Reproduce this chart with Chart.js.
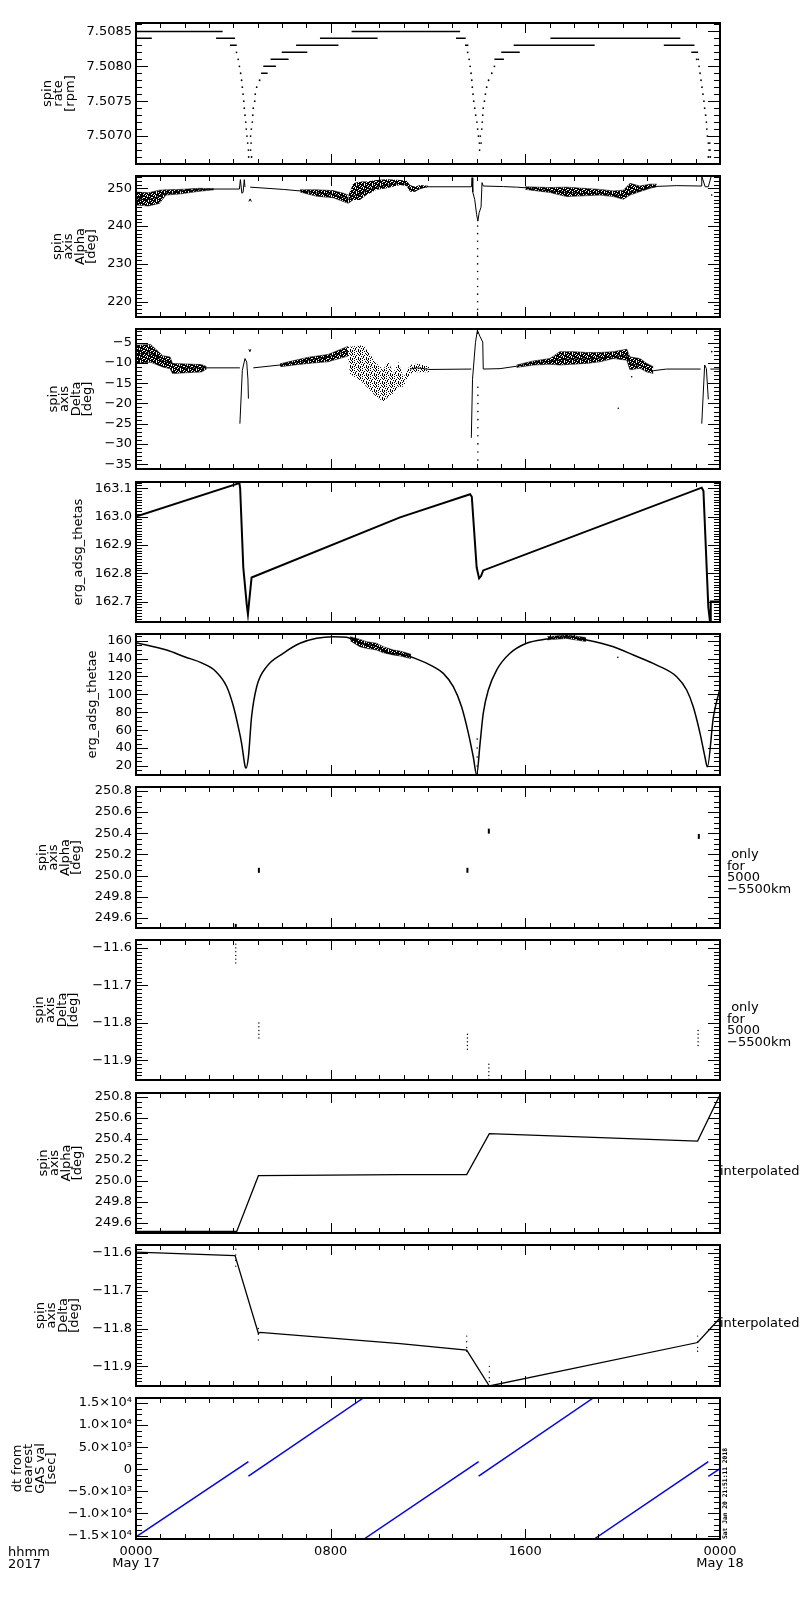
<!DOCTYPE html>
<html>
<head>
<meta charset="utf-8">
<script src="https://cdn.jsdelivr.net/npm/chart.js@4.4.1/dist/chart.umd.min.js"></script>
<style>
  body { margin: 0; background: #fff; }
  #page { position: relative; width: 800px; height: 1600px; overflow: hidden; }
  #page canvas { position: absolute; left: 0; }
</style>
</head>
<body>
<div id="page"></div>
<script>
// time axis: hours after 0000 UT, May 17 2017
const hourTicks = [0, 8, 16, 24];
const hourLabels = [["0000", "May 17"], ["0800"], ["1600"], ["0000", "May 18"]];

// tick values per panel
const rateTicks = [7.5070, 7.5075, 7.5080, 7.5085];
const alphaTicks = [220, 230, 240, 250];
const deltaTicks = [-35, -30, -25, -20, -15, -10, -5];
const thetasTicks = [162.7, 162.8, 162.9, 163.0, 163.1];
const thetaeTicks = [20, 40, 60, 80, 100, 120, 140, 160];
const alphaFineTicks = [249.6, 249.8, 250.0, 250.2, 250.4, 250.6, 250.8];
const deltaFineTicks = [-11.9, -11.8, -11.7, -11.6];
const dtTicks = [-15000, -10000, -5000, 0, 5000, 10000, 15000];
const dtTickLabels = ["\u22121.5\u00d710\u2074", "\u22121.0\u00d710\u2074", "\u22125.0\u00d710\u00b3", "0",
                      "5.0\u00d710\u00b3", "1.0\u00d710\u2074", "1.5\u00d710\u2074"];

// spin rate [rpm]: flat runs [start h, end h, rpm] and lone samples [h, rpm]
const rateRuns = [
  [0, 3.56, 7.5085], [0, 0.65, 7.5084], [3.29, 4.07, 7.5084], [3.86, 4.14, 7.5083],
  [5.14, 5.41, 7.5079], [5.23, 5.75, 7.5080], [5.53, 6.27, 7.5081], [5.99, 7.04, 7.5082],
  [6.58, 8.32, 7.5083], [7.56, 9.93, 7.5084], [8.86, 13.32, 7.5085], [13.15, 13.55, 7.5084],
  [13.52, 13.66, 7.5083], [14.73, 15.12, 7.5081], [15.01, 15.77, 7.5082], [15.52, 18.85, 7.5083],
  [17.03, 22.37, 7.5084], [21.69, 22.95, 7.5083], [22.82, 23.10, 7.5082]
];
const rateDots = [
  [4.13, 7.5082], [4.20, 7.5081], [4.25, 7.5080], [4.30, 7.5079], [4.34, 7.5078], [4.37, 7.5077],
  [4.40, 7.5076], [4.43, 7.5075], [4.45, 7.5074], [4.48, 7.5073], [4.51, 7.5072], [4.53, 7.5071],
  [4.56, 7.5070], [4.59, 7.5069], [4.62, 7.5068], [4.63, 7.5067], [4.75, 7.5067], [4.71, 7.5068],
  [4.73, 7.5069], [4.71, 7.5070], [4.74, 7.5071], [4.78, 7.5072], [4.80, 7.5073], [4.82, 7.5074],
  [4.88, 7.5075], [4.90, 7.5076], [4.96, 7.5077], [5.08, 7.5078],
  [13.63, 7.5082], [13.69, 7.5081], [13.73, 7.5080], [13.77, 7.5079], [13.80, 7.5078], [13.82, 7.5077],
  [13.85, 7.5076], [13.88, 7.5075], [13.92, 7.5074], [13.96, 7.5073], [14.01, 7.5072], [14.04, 7.5071],
  [14.07, 7.5070], [14.11, 7.5069], [14.12, 7.5068], [14.18, 7.5069], [14.15, 7.5070], [14.21, 7.5071],
  [14.23, 7.5072], [14.25, 7.5073], [14.27, 7.5074], [14.32, 7.5075], [14.36, 7.5076], [14.41, 7.5077],
  [14.49, 7.5078], [14.62, 7.5079], [14.73, 7.5080],
  [23.04, 7.5081], [23.11, 7.5081], [23.14, 7.5080], [23.18, 7.5079], [23.22, 7.5078], [23.26, 7.5077],
  [23.30, 7.5076], [23.34, 7.5075], [23.37, 7.5074], [23.41, 7.5073], [23.44, 7.5072], [23.46, 7.5071],
  [23.48, 7.5070], [23.52, 7.5069], [23.58, 7.5069], [23.55, 7.5068], [23.59, 7.5068], [23.52, 7.5067],
  [23.60, 7.5067]
];

// spin axis alpha [deg]: trace ([h, null] = gap), dense bands [h, hi, lo], sparse clouds, lone samples
const alphaTrace = [
  [0, 247.2], [0.5, 247.0], [0.96, 247.8], [1.23, 248.8], [1.5, 248.7], [1.8, 249.3], [2.6, 249.6],
  [3.2, 249.8], [4.25, 249.8], [4.29, 252.3], [4.35, 248.7], [4.40, 248.9], [4.45, 252.3], [4.48, 250.3],
  [4.48, null],
  [4.64, 246.5], [4.69, 247.2], [4.74, 246.5], [4.74, null],
  [4.69, 250.3], [6.05, 249.7], [6.74, 249.3], [7.42, 248.8], [8.1, 248.4], [8.52, 247.5], [8.73, 247.0],
  [8.93, 248.0], [9.2, 248.5], [9.47, 249.3], [9.89, 250.3], [10.3, 250.8], [10.85, 251.3], [11.12, 251.0],
  [11.3, 249.6], [11.47, 249.3], [11.67, 249.9], [11.94, 250.4], [13.79, 250.4], [13.81, 252.8],
  [13.84, 249.0], [13.92, 247.0], [14.0, 243.0], [14.05, 241.3], [14.10, 243.5], [14.18, 245.0],
  [14.22, 251.5], [14.27, 250.6], [15.1, 250.45], [15.64, 250.3], [16.33, 250.0], [17.0, 249.3],
  [17.7, 248.9], [18.38, 248.6], [19.07, 248.7], [19.62, 248.3], [20.03, 248.0], [20.3, 248.8],
  [20.7, 249.5], [21.13, 250.3], [21.4, 250.5], [22.22, 250.7], [23.22, 250.6], [23.25, 253.2],
  [23.39, 250.4], [23.52, 250.4], [23.64, 253.2]
];
const alphaBands = [
  [[0, 249.0, 245.6], [0.5, 248.8, 245.3], [0.96, 249.5, 246.0], [1.23, 249.6, 248.2], [1.8, 249.7, 248.5],
   [2.6, 250.0, 249.2], [3.2, 249.9, 249.6]],
  [[6.74, 249.6, 249.0], [7.42, 249.6, 247.9], [8.1, 249.4, 247.5], [8.52, 248.7, 246.5], [8.73, 248.2, 246.0]],
  [[16.0, 250.4, 249.7], [17.0, 250.2, 248.9], [17.7, 250.3, 247.8], [18.38, 250.0, 248.0],
   [19.07, 249.7, 248.2], [19.62, 249.3, 247.8], [20.03, 249.5, 247.1], [20.3, 251.3, 248.2],
   [20.7, 250.6, 249.1], [21.13, 251.1, 250.0], [21.4, 251.1, 250.4]]
];
const alphaClouds = [
  [[8.73, 248.2, 246.0], [8.93, 251.3, 246.9], [9.2, 251.8, 246.9], [9.47, 251.8, 248.2], [9.89, 252.2, 249.6],
   [10.3, 252.4, 250.0], [10.85, 252.2, 250.9], [11.12, 252.0, 250.6], [11.26, 250.9, 249.1],
   [11.47, 250.4, 249.1], [11.67, 250.9, 250.0], [12.0, 250.7, 250.2]]
];
const alphaDots = [
  [23.66, 248.2], [14.04, 240], [14.04, 238], [14.04, 236], [14.04, 234], [14.04, 232], [14.04, 230],
  [14.04, 228], [14.04, 226], [14.04, 224], [14.04, 222], [14.04, 220], [14.04, 218], [14.04, 216.5]
];

// spin axis delta [deg]
const deltaTrace = [
  [0, -7.8], [0.6, -7.5], [1.1, -9.5], [1.4, -10.0], [2.0, -11.3], [2.7, -11.2], [4.27, -11.2], [4.27, null],
  [4.27, -25.0], [4.37, -11.8], [4.48, -8.9], [4.55, -9.8], [4.60, -14.0], [4.62, -18.8], [4.62, null],
  [4.64, -6.6], [4.68, -7.2], [4.72, -6.6], [4.72, null],
  [4.82, -11.2], [5.92, -10.5], [7.07, -9.3], [7.89, -8.5], [8.71, -7.0], [8.71, null],
  [11.26, -11.5], [11.54, -11.2], [12.08, -11.6], [13.78, -11.5], [13.78, null],
  [13.78, -28.5], [13.83, -14.0], [13.95, -5.0], [14.03, -1.9], [14.14, -3.5], [14.25, -4.8],
  [14.27, -11.5], [14.96, -11.4], [15.64, -10.8], [16.33, -10.0], [17.01, -9.6], [17.42, -9.2],
  [17.97, -9.0], [18.52, -9.0], [19.07, -8.8], [19.62, -8.4], [20.17, -8.2], [20.3, -10.2],
  [20.71, -10.6], [20.99, -11.4], [21.26, -11.9], [21.81, -11.5], [23.20, -11.5], [23.20, null],
  [23.25, -25.0], [23.37, -10.5], [23.44, -11.4], [23.52, -19.0], [23.52, null],
  [23.60, -11.5], [24, -11.5]
];
const deltaBands = [
  [[0, -5.6, -10.1], [0.6, -5.4, -9.8], [1.1, -8.2, -11.0], [1.4, -8.5, -11.4], [1.5, -10.1, -12.6],
   [2.7, -10.4, -12.2], [2.9, -10.9, -11.5]],
  [[5.92, -10.2, -10.9], [7.07, -8.6, -10.1], [7.89, -7.9, -9.7], [8.71, -5.9, -8.3]],
  [[15.64, -10.5, -11.1], [16.33, -9.5, -10.5], [17.01, -8.9, -10.3], [17.42, -7.2, -10.5],
   [17.97, -7.2, -10.3], [18.52, -7.4, -10.1], [19.07, -7.4, -9.7], [19.62, -7.2, -8.9],
   [20.17, -6.6, -9.3], [20.3, -8.5, -11.7], [20.71, -8.9, -11.3], [20.99, -10.1, -12.2], [21.26, -10.9, -12.6]]
];
const deltaClouds = [
  [[8.71, -5.9, -8.3], [8.79, -6.0, -12.6], [9.34, -5.6, -15.0], [9.89, -10.1, -18.4], [10.16, -11.7, -19.6],
   [10.36, -9.3, -18.4], [10.57, -12.6, -17.5], [10.78, -9.7, -15.9], [10.99, -13.6, -15.9],
   [11.26, -10.5, -12.6], [11.54, -10.1, -12.3], [12.08, -10.9, -12.3]]
];
const deltaDots = [
  [19.82, -21.2], [20.37, -13.4], [23.66, -7.2],
  [14.05, -16], [14.05, -18], [14.05, -20], [14.05, -22], [14.05, -24], [14.05, -26],
  [14.05, -28], [14.05, -30], [14.05, -32], [14.05, -34], [14.05, -36]
];

// erg_adsg_thetas [deg]
const thetasTrace = [
  [0, 163.0], [4.25, 163.118], [4.28, 163.10], [4.41, 162.82], [4.55, 162.69], [4.60, 162.655],
  [4.65, 162.70], [4.75, 162.785], [10.85, 162.997], [13.73, 163.079], [13.80, 163.07], [14.0, 162.82],
  [14.1, 162.782], [14.18, 162.79], [14.27, 162.81], [23.25, 163.102], [23.32, 163.09], [23.52, 162.68],
  [23.59, 162.628], [23.62, 162.70], [24, 162.70]
];

// erg_adsg_thetae [deg]
const thetaeTrace = [
  [0, 157.8], [1.26, 149.6], [1.99, 142.1], [2.74, 134.7], [3.29, 125.4], [3.73, 108.6], [4.0, 87],
  [4.2, 64], [4.34, 45.3], [4.48, 20], [4.52, 17.4], [4.62, 30.3], [4.75, 75], [4.96, 108.6], [5.37, 131],
  [6.05, 145.9], [6.74, 157.1], [7.42, 162.7], [8.1, 164.5], [8.66, 163.8], [9.2, 157.5], [9.89, 153.5],
  [10.3, 146.5], [10.85, 145.1], [11.47, 140.3], [12.22, 131], [12.63, 123.5], [13.04, 108.6], [13.38, 86.2],
  [13.66, 56.5], [13.86, 30.3], [14.0, 10], [14.14, 45.3], [14.27, 78.8], [14.48, 104.9], [14.82, 127.2],
  [15.37, 145.9], [16.05, 157.1], [16.88, 161.9], [17.7, 164.5], [18.52, 160.8], [19.62, 153.3],
  [20.44, 144], [21.4, 132.8], [22.22, 119.8], [22.63, 104.9], [22.9, 86.2], [23.18, 56.5], [23.38, 30.3],
  [23.48, 19], [23.73, 75], [24, 106.8]
];
const thetaeBands = [
  [[8.8, 164.5, 160], [9.2, 161.6, 153.3], [9.47, 158.9, 151.5], [9.89, 157.1, 149.6], [10.16, 153.3, 146.6],
   [10.58, 149.6, 144.0], [10.85, 148.4, 143.0], [11.3, 145.0, 140.0]],
  [[16.9, 164.5, 161.0], [17.7, 166.5, 162.5], [18.5, 163.5, 159.0]]
];
const thetaeDots = [[19.8, 141.4], [14.02, 50], [14.02, 40], [14.02, 30], [14.02, 20]];

// spin axis only for 5000-5500 km
const alphaShellDots = [[4.10, 249.52], [5.05, 250.05], [13.62, 250.05], [14.50, 250.42], [23.13, 250.37]];
const deltaShellDots = [
  [4.10, -11.59], [4.10, -11.60], [4.10, -11.61], [4.10, -11.62], [4.10, -11.63], [4.10, -11.64],
  [5.05, -11.80], [5.05, -11.81], [5.05, -11.82], [5.05, -11.83], [5.05, -11.84],
  [13.62, -11.83], [13.62, -11.84], [13.62, -11.85], [13.62, -11.86], [13.62, -11.87],
  [14.50, -11.91], [14.50, -11.92], [14.50, -11.93], [14.50, -11.94], [14.50, -11.95],
  [23.10, -11.82], [23.10, -11.83], [23.10, -11.84], [23.10, -11.85], [23.10, -11.86]
];

// spin axis interpolated
const alphaInterp = [[0, 249.52], [4.14, 249.52], [5.03, 250.05], [10.85, 250.06], [13.59, 250.06],
                     [14.52, 250.45], [23.08, 250.38], [24, 250.82]];
const deltaInterp = [[0, -11.598], [4.07, -11.607], [5.03, -11.813], [5.10, -11.81], [10.85, -11.84],
                     [13.59, -11.857], [14.52, -11.952], [23.08, -11.837], [24, -11.772]];
const deltaInterpDots = [
  [4.10, -11.59], [4.10, -11.605], [4.10, -11.62], [4.10, -11.635], [5.03, -11.80], [5.03, -11.815],
  [5.03, -11.83], [13.59, -11.82], [13.59, -11.835], [13.59, -11.85], [13.59, -11.86],
  [14.52, -11.90], [14.52, -11.915], [14.52, -11.93], [14.52, -11.94],
  [23.08, -11.82], [23.08, -11.835], [23.08, -11.85], [23.08, -11.86]
];

// dt from nearest GAS value [sec]: ramps [start h, start s, end h, end s]
const dtRamps = [
  [0, -15300, 4.62, 1720], [4.62, -1520, 9.34, 16130], [9.37, -15770, 14.08, 1720],
  [14.08, -1520, 18.79, 16130], [18.83, -15770, 23.52, 1720], [23.52, -1600, 24, 130]
];

const panelTops = [23, 176, 329, 482, 634, 787, 940, 1093, 1245, 1398];
const panelBottoms = [164, 317, 469, 622, 775, 928, 1080, 1233, 1386, 1539];

// speckle fills that mimic dense / sparse clouds of plotted samples
function speckle(mask) {
  const c = document.createElement("canvas");
  c.width = mask[0].length;
  c.height = mask.length;
  const g = c.getContext("2d");
  g.fillStyle = "#000";
  mask.forEach((row, y) => [...row].forEach((ch, x) => { if (ch === "#") g.fillRect(x, y, 1, 1); }));
  return g.createPattern(c, "repeat");
}
const denseFill = speckle(["##.###.#", "#.##.###", "####.#.#", ".###.###",
                           "##.####.", "#.#.####", "###.#.##", ".######."]);
const sparseFill = speckle(["#...#.#.", "..#....#", "#....#..", "#.#...#.",
                            "....#..#", ".#.#....", "...#..#.", "#.#...#."]);

const xy = rows => rows.map(([x, y]) => ({ x, y }));

function traceSet(rows, color, width, smooth) {
  return { data: xy(rows), borderColor: color || "#000", borderWidth: width || 1, pointRadius: 0,
           spanGaps: false, cubicInterpolationMode: smooth ? "monotone" : "default" };
}
function dotSet(rows, radius) {
  return { data: xy(rows), showLine: false, pointRadius: radius || 1, pointBorderWidth: 0,
           pointBackgroundColor: "#000" };
}
function bandSets(regions, pattern, edge) {
  const out = [];
  regions.forEach(rows => {
    out.push({ data: rows.map(r => ({ x: r[0], y: r[1] })), borderColor: edge, borderWidth: 1, pointRadius: 0 });
    out.push({ data: rows.map(r => ({ x: r[0], y: r[2] })), borderColor: edge, borderWidth: 1, pointRadius: 0,
               fill: "-1", backgroundColor: pattern });
  });
  return out;
}
function runsToRows(runs) {
  const rows = [];
  runs.forEach(([a, b, v]) => rows.push([a, v], [b, v], [b, null]));
  return rows;
}
function rampsToRows(ramps) {
  const rows = [];
  ramps.forEach(([a, va, b, vb]) => rows.push([a, va], [b, vb], [b, null]));
  return rows;
}
const signed = d => v => (v < 0 ? "\u2212" : "") + Math.abs(v).toFixed(d);

// IDL-style frame: box plus inward ticks on all four sides, and side notes
const idlFrame = {
  id: "idlFrame",
  afterDatasetsDraw(chart, args, opts) {
    const { ctx, chartArea: a, scales: { x, y } } = chart;
    ctx.save();
    ctx.strokeStyle = "#000";
    ctx.lineWidth = 1;
    ctx.beginPath();
    for (let h = x.min; h <= x.max; h += 1) {
      const px = Math.round(x.getPixelForValue(h)) + 0.5;
      const len = hourTicks.includes(h) ? 10 : 5;
      ctx.moveTo(px, a.bottom); ctx.lineTo(px, a.bottom - len);
      ctx.moveTo(px, a.top); ctx.lineTo(px, a.top + len);
    }
    const majors = y.ticks.map(t => t.value);
    const k0 = Math.ceil(y.min / opts.minor - 1e-6);
    const k1 = Math.floor(y.max / opts.minor + 1e-6);
    for (let k = k0; k <= k1; k++) {
      const v = k * opts.minor;
      if (majors.some(m => Math.abs(m - v) < opts.minor / 10)) continue;
      const py = Math.round(y.getPixelForValue(v)) + 0.5;
      ctx.moveTo(a.left, py); ctx.lineTo(a.left + 6, py);
      ctx.moveTo(a.right, py); ctx.lineTo(a.right - 6, py);
    }
    majors.forEach(v => {
      const py = Math.round(y.getPixelForValue(v)) + 0.5;
      ctx.moveTo(a.left, py); ctx.lineTo(a.left + 12, py);
      ctx.moveTo(a.right, py); ctx.lineTo(a.right - 12, py);
    });
    ctx.stroke();
    ctx.lineWidth = 2;
    ctx.strokeRect(a.left, a.top, a.right - a.left, a.bottom - a.top);

    ctx.fillStyle = "#000";
    ctx.font = "13px 'DejaVu Sans'";
    ctx.textBaseline = "middle";
    ctx.textAlign = "left";
    if (opts.notes) {
      opts.notes.lines.forEach((t, i) => ctx.fillText(t, opts.notes.x, a.top + opts.notes.dy + i * 11.5));
    }
    if (opts.footer) {
      ctx.fillText("hhmm", 8, a.bottom + 14);
      ctx.fillText("2017", 8, a.bottom + 26);
      ctx.save();
      ctx.translate(725, a.bottom);
      ctx.rotate(-Math.PI / 2);
      ctx.font = "bold 6.3px 'DejaVu Sans Mono'";
      ctx.fillText("Sat Jan 20 21:51:11 2018", 0, 0);
      ctx.restore();
    }
    ctx.restore();
  }
};

const onlyNote = { lines: [" only", "for", "5000", "\u22125500km"], x: 727, dy: 68 };
const interpNote = { lines: ["interpolated"], x: 720, dy: 79 };
const denseEdge = "rgba(0,0,0,0.55)";
const sparseEdge = "rgba(0,0,0,0)";

const panels = [
  { min: 7.50660, max: 7.50862, major: rateTicks, minor: 0.0001, fmt: v => v.toFixed(4),
    title: ["spin", "rate", "[rpm]"], titlePad: 42,
    datasets: [traceSet(runsToRows(rateRuns), "#000", 1.5), dotSet(rateDots, 0.9)] },
  { min: 215.95, max: 253.25, major: alphaTicks, minor: 1, fmt: v => v.toFixed(0),
    title: ["spin", "axis", "Alpha", "[deg]"], titlePad: 52,
    datasets: [...bandSets(alphaBands, denseFill, denseEdge), ...bandSets(alphaClouds, denseFill, sparseEdge),
               traceSet(alphaTrace), dotSet(alphaDots, 0.8)] },
  { min: -36.2, max: -1.6, major: deltaTicks, minor: 1, fmt: signed(0),
    title: ["spin", "axis", "Delta", "[deg]"], titlePad: 48,
    datasets: [...bandSets(deltaBands, denseFill, denseEdge), ...bandSets(deltaClouds, sparseFill, sparseEdge),
               traceSet(deltaTrace), dotSet(deltaDots, 0.8)] },
  { min: 162.628, max: 163.122, major: thetasTicks, minor: 0.01, fmt: v => v.toFixed(1),
    title: ["erg_adsg_thetas"], titlePad: 73,
    datasets: [traceSet(thetasTrace, "#000", 2)] },
  { min: 9.9, max: 167.5, major: thetaeTicks, minor: 5, fmt: v => v.toFixed(0),
    title: ["erg_adsg_thetae"], titlePad: 87,
    datasets: [...bandSets(thetaeBands, denseFill, denseEdge), traceSet(thetaeTrace, "#000", 1.5, true),
               dotSet(thetaeDots, 0.8)] },
  { min: 249.505, max: 250.837, major: alphaFineTicks, minor: 0.05, fmt: v => v.toFixed(1),
    title: ["spin", "axis", "Alpha", "[deg]"], titlePad: 37, notes: onlyNote,
    datasets: [{ data: xy(alphaShellDots), showLine: false, pointStyle: "line", rotation: 90,
                 pointRadius: 2.5, pointBorderWidth: 2, pointBorderColor: "#000" }] },
  { min: -11.952, max: -11.579, major: deltaFineTicks, minor: 0.01, fmt: signed(1),
    title: ["spin", "axis", "Delta", "[deg]"], titlePad: 34, notes: onlyNote,
    datasets: [dotSet(deltaShellDots, 0.7)] },
  { min: 249.505, max: 250.837, major: alphaFineTicks, minor: 0.05, fmt: v => v.toFixed(1),
    title: ["spin", "axis", "Alpha", "[deg]"], titlePad: 38, notes: interpNote,
    datasets: [traceSet(alphaInterp, "#000", 1.3)] },
  { min: -11.952, max: -11.579, major: deltaFineTicks, minor: 0.01, fmt: signed(1),
    title: ["spin", "axis", "Delta", "[deg]"], titlePad: 35, notes: interpNote,
    datasets: [traceSet(deltaInterp, "#000", 1.3), dotSet(deltaInterpDots, 0.7)] },
  { min: -15770, max: 16130, major: dtTicks, minor: 1250, fmt: (v, i) => dtTickLabels[i],
    title: ["dt from", "nearest", "GAS val", "[sec]"], titlePad: 12,
    datasets: [traceSet(rampsToRows(dtRamps), "#0000ff", 1.5)] }
];

Chart.defaults.font.family = "'DejaVu Sans', sans-serif";
Chart.defaults.font.size = 13;
Chart.defaults.color = "#000";

const page = document.getElementById("page");

panels.forEach((spec, i) => {
  const last = i === panels.length - 1;
  const top = panelTops[i] - 10;
  const plotH = panelBottoms[i] - panelTops[i];
  const height = last ? 1600 - top : plotH + 20;
  const canvas = document.createElement("canvas");
  canvas.width = 800;
  canvas.height = height;
  canvas.style.top = top + "px";
  page.appendChild(canvas);

  new Chart(canvas, {
    type: "line",
    data: { datasets: spec.datasets },
    options: {
      responsive: false,
      animation: false,
      events: [],
      layout: { padding: { top: 10, left: 0, right: 80, bottom: last ? height - 10 - plotH - 40 : 10 } },
      elements: { point: { radius: 0 }, line: { tension: 0 } },
      plugins: {
        legend: { display: false },
        tooltip: { enabled: false },
        idlFrame: { minor: spec.minor, notes: spec.notes, footer: last }
      },
      scales: {
        x: {
          type: "linear", min: 0, max: 24, display: last,
          afterBuildTicks: s => { s.ticks = hourTicks.map(v => ({ value: v })); },
          ticks: { callback: (v, k) => hourLabels[k], padding: 6, maxRotation: 0, autoSkip: false,
                   font: { size: 13, lineHeight: 0.95 } },
          grid: { display: false, drawTicks: false },
          border: { display: false },
          afterFit: s => {
            if (last) s.height = 40;
            s.paddingLeft = 0;
            s.paddingRight = 0;
          }
        },
        y: {
          type: "linear", min: spec.min, max: spec.max,
          afterBuildTicks: s => { s.ticks = spec.major.map(v => ({ value: v })); },
          ticks: { callback: spec.fmt, padding: 4, autoSkip: false },
          grid: { display: false, drawTicks: false },
          border: { display: false },
          title: { display: true, text: spec.title, padding: { top: spec.titlePad, bottom: 0 },
                   font: { size: 13, lineHeight: 0.87 } },
          afterFit: s => { s.width = 136; s.paddingTop = 0; s.paddingBottom = 0; }
        }
      }
    },
    plugins: [idlFrame]
  });
});
</script>
</body>
</html>
